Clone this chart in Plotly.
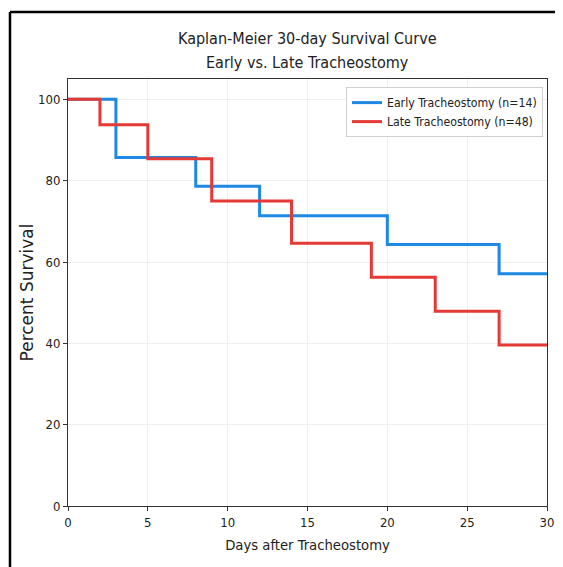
import plotly.graph_objects as go

# Data
early_days = [0, 3, 8, 12, 20, 27, 30]
early_surv = [100.0, 85.7, 78.6, 71.4, 64.3, 57.1, 57.1]
late_days = [0, 2, 5, 9, 14, 19, 23, 27, 30]
late_surv = [100.0, 93.75, 85.4, 75.0, 64.6, 56.25, 47.9, 39.6, 39.6]
x_ticks = [0, 5, 10, 15, 20, 25, 30]
y_ticks = [0, 20, 40, 60, 80, 100]
title_lines = ["Kaplan-Meier 30-day Survival Curve", "Early vs. Late Tracheostomy"]

COND = "DejaVu Sans Condensed, Liberation Sans Narrow, DejaVu Sans, sans-serif"

fig = go.Figure()
fig.add_trace(go.Scatter(x=early_days, y=early_surv, mode="lines", line_shape="hv",
                         line=dict(color="#1e88e5", width=3),
                         name="Early Tracheostomy (n=14)"))
fig.add_trace(go.Scatter(x=late_days, y=late_surv, mode="lines", line_shape="hv",
                         line=dict(color="#e53935", width=3),
                         name="Late Tracheostomy (n=48)"))

fig.update_layout(
    width=571, height=575,
    margin=dict(l=60, r=32, t=71, b=77),
    paper_bgcolor="white", plot_bgcolor="white",
    font=dict(family=COND, size=12, color="#222"),
    showlegend=True,
    legend=dict(x=0.9916, y=0.981, xanchor="right", yanchor="top",
                bgcolor="white", bordercolor="#d0d0d0", borderwidth=1,
                font=dict(family=COND, size=12.2, color="#222"),
                itemwidth=30),
    xaxis=dict(range=[0, 30], tickvals=x_ticks, showgrid=True, gridcolor="#efefef",
               zeroline=False, showline=True, linecolor="#333", linewidth=1, mirror=True,
               ticks="outside", ticklen=4, tickcolor="#333",
               tickfont=dict(family=COND, size=13),
               title=dict(text="Days after Tracheostomy", standoff=11,
                          font=dict(family=COND, size=14.7, color="#222"))),
    yaxis=dict(range=[0, 105], tickvals=y_ticks, showgrid=True, gridcolor="#efefef",
               zeroline=False, showline=True, linecolor="#333", linewidth=1, mirror=True,
               ticks="outside", ticklen=4, tickcolor="#333",
               tickfont=dict(family=COND, size=13),
               title=dict(text="Percent Survival", standoff=0,
                          font=dict(family="DejaVu Sans, sans-serif", size=17, color="#222"))),
    annotations=[
        dict(text=title_lines[0], xref="paper", yref="paper", x=0.501, y=1.096,
             xanchor="center", yanchor="middle", showarrow=False,
             font=dict(family=COND, size=16, color="#222")),
        dict(text=title_lines[1], xref="paper", yref="paper", x=0.501, y=1.0398,
             xanchor="center", yanchor="middle", showarrow=False,
             font=dict(family=COND, size=16, color="#222")),
    ],
    shapes=[
        dict(type="line", xref="paper", yref="paper", x0=-0.1211, x1=-0.1211, y0=1.157, y1=-0.2,
             line=dict(color="black", width=2.5)),
        dict(type="line", xref="paper", yref="paper", x0=-0.1211, x1=1.1, y0=1.157, y1=1.157,
             line=dict(color="black", width=2.5)),
    ],
)

fig.write_html("out.html")
